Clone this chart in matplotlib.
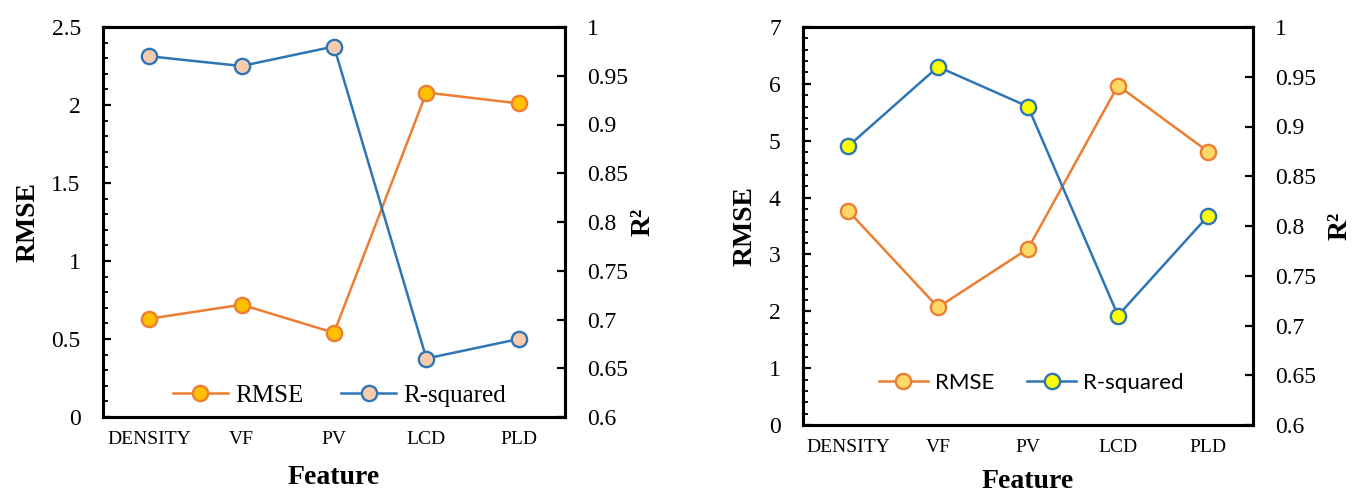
import matplotlib
matplotlib.use("Agg")
import matplotlib.pyplot as plt
from matplotlib.ticker import MultipleLocator, FixedLocator

plt.rcParams["font.family"] = ["Liberation Serif", "DejaVu Serif"]

features = ["DENSITY", "VF", "PV", "LCD", "PLD"]

# left panel
rmse_a = [0.63, 0.72, 0.54, 2.08, 2.01]
r2_a = [0.97, 0.96, 0.98, 0.66, 0.68]

# right panel
rmse_b = [3.77, 2.07, 3.10, 5.97, 4.81]
r2_b = [0.88, 0.96, 0.92, 0.71, 0.81]

ORANGE = "#ED7D31"
BLUE = "#2E75B6"

W, H = 1353, 493
fig = plt.figure(figsize=(W / 100, H / 100), dpi=100)


def px_box(x0, x1, y0, y1):
    return [x0 / W, 1 - y1 / H, (x1 - x0) / W, (y1 - y0) / H]


def panel(box, rmse, r2, rmse_max, rmse_major, rmse_fill, r2_fill,
          leg_xy, leg_font, lab_x, lab_x2, feat_y):
    ax = fig.add_axes(box)
    ax2 = ax.twinx()
    x = list(range(len(features)))

    l1, = ax.plot(x, rmse, color=ORANGE, lw=1.8, marker="o", ms=11,
                  mfc=rmse_fill, mec=ORANGE, mew=1.7, zorder=3)
    l2, = ax2.plot(x, r2, color=BLUE, lw=1.8, marker="o", ms=11,
                   mfc=r2_fill, mec=BLUE, mew=1.7, zorder=3)

    ax.set_xlim(-0.5, len(features) - 0.5)
    ax.set_xticks(x, features, fontsize=14)
    ax.set_ylim(0, rmse_max)
    ax.yaxis.set_major_locator(MultipleLocator(rmse_major))
    ax.yaxis.set_minor_locator(MultipleLocator(rmse_major / 5))
    ax.tick_params(axis="x", length=0, pad=10)
    ax.tick_params(axis="y", which="major", direction="in", length=5.5,
                   width=1.6, labelsize=17, pad=16)
    ax.tick_params(axis="y", which="minor", direction="in", length=3.5,
                   width=1.3)
    ax.set_yticklabels([f"{v:g}" for v in ax.get_yticks()])

    ax2.set_ylim(0.6, 1.0)
    r2_ticks = [0.6, 0.65, 0.7, 0.75, 0.8, 0.85, 0.9, 0.95, 1.0]
    ax2.yaxis.set_major_locator(FixedLocator(r2_ticks))
    ax2.set_yticklabels([f"{v:g}" for v in r2_ticks])
    ax2.tick_params(axis="y", direction="in", length=5.5, width=1.6,
                    labelsize=17, pad=16)

    for a in (ax, ax2):
        for s in a.spines.values():
            s.set_linewidth(2.2)

    ax.set_ylabel("RMSE", fontsize=20, fontweight="bold")
    ax.yaxis.label.set_va("center")
    ax.yaxis.set_label_coords(lab_x, 0.5)
    ax2.set_ylabel("R²", fontsize=20, fontweight="bold")
    ax2.yaxis.label.set_va("center")
    ax2.yaxis.set_label_coords(lab_x2, 0.5)
    ax.set_xlabel("Feature", fontsize=20, fontweight="bold")
    ax.xaxis.label.set_va("center")
    ax.xaxis.set_label_coords(0.5, feat_y)

    ax2.legend([l1, l2], ["RMSE", "R-squared"], loc="center",
               bbox_to_anchor=leg_xy, ncol=2, frameon=False,
               prop=leg_font, handlelength=2.2, columnspacing=1.5,
               handletextpad=0.3)
    return ax, ax2


panel(px_box(103, 565, 27, 417), rmse_a, r2_a, 2.5, 0.5, "#FFC000", "#F8CBAD",
      (0.512, 0.054), {"family": "Liberation Serif", "size": 18},
      -0.162, 1.169, -0.154)

panel(px_box(803, 1253, 27, 425), rmse_b, r2_b, 7, 1, "#FFD966", "#FFFF00",
      (0.507, 0.106), {"family": "Lato", "size": 16},
      -0.129, 1.193, -0.142)

fig.savefig("out.png", dpi=100)
